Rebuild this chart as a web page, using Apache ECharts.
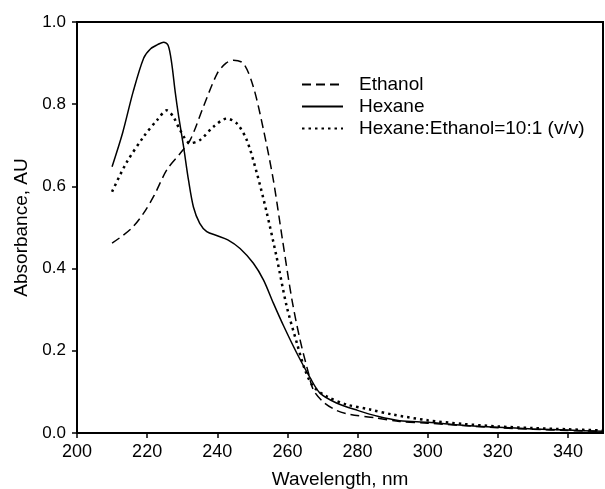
<!DOCTYPE html>
<html lang="en">
<head>
  <meta charset="UTF-8">
  <title>Absorbance</title>
  <style>
    html, body { margin: 0; padding: 0; background: #fff; }
  </style>
</head>
<body>
  <div id="main" style="width:605px;height:489px"></div>
  <script src="https://cdn.jsdelivr.net/npm/echarts@6/dist/echarts.min.js"></script>
  <script>
    var myChart = echarts.init(document.getElementById('main'))

    var seriesNames = ['Ethanol', 'Hexane', 'Hexane:Ethanol=10:1 (v/v)']

    // wavelength (nm) / absorbance (AU)
    var ethanolNm = [210, 213, 216, 219, 222, 225.6, 229.4, 232.3, 236, 240, 242.5, 244.6, 247.5, 250.3, 253.2, 256, 258.6, 261.3, 263.6, 266, 267.4, 270.3, 274, 278, 285, 292, 300, 310, 320, 330, 340, 350]
    var ethanolAbs = [0.462, 0.48, 0.502, 0.535, 0.578, 0.64, 0.68, 0.713, 0.793, 0.875, 0.9, 0.907, 0.899, 0.842, 0.737, 0.615, 0.47, 0.324, 0.227, 0.146, 0.105, 0.075, 0.055, 0.045, 0.037, 0.028, 0.024, 0.018, 0.013, 0.009, 0.006, 0.004]

    var hexaneNm = [210, 213, 216, 219, 221, 223, 224.7, 226, 227, 228, 229, 230.4, 231.8, 233.2, 235, 237, 240, 243, 246.5, 250.3, 253.2, 256, 259, 262.7, 266.5, 269.3, 274, 280, 286, 292, 300, 310, 320, 330, 340, 350]
    var hexaneAbs = [0.648, 0.73, 0.83, 0.912, 0.935, 0.945, 0.951, 0.943, 0.9, 0.83, 0.77, 0.696, 0.615, 0.55, 0.51, 0.49, 0.48, 0.47, 0.449, 0.413, 0.372, 0.316, 0.259, 0.194, 0.134, 0.097, 0.073, 0.055, 0.04, 0.03, 0.026, 0.019, 0.014, 0.01, 0.007, 0.004]

    var mixNm = [210, 214, 219, 222.8, 225.6, 227.5, 229.4, 232.3, 235.1, 238.9, 242.7, 245.6, 248.4, 251.3, 254, 256.9, 259.8, 262.7, 265, 267.4, 271.2, 277, 283.6, 290, 300, 310, 320, 330, 340, 350]
    var mixAbs = [0.587, 0.656, 0.721, 0.761, 0.785, 0.769, 0.737, 0.705, 0.713, 0.745, 0.765, 0.753, 0.713, 0.632, 0.54, 0.429, 0.308, 0.219, 0.154, 0.113, 0.089, 0.069, 0.057, 0.045, 0.031, 0.022, 0.016, 0.012, 0.009, 0.006]

    function pairs(xs, ys) {
      var out = []
      for (var i = 0; i < xs.length; i++) {
        out.push([xs[i], ys[i]])
      }
      return out
    }

    var font = 'Liberation Sans, Arial, sans-serif'

    var options = {
      animation: false,
      textStyle: { fontFamily: font, color: '#000' },
      grid: {
        left: 77, right: 2, top: 22, bottom: 56,
        outerBoundsMode: 'none',
        show: true, borderColor: '#000', borderWidth: 2
      },
      legend: {
        orient: 'vertical',
        left: 296,
        top: 70,
        itemWidth: 41,
        itemHeight: 14,
        itemGap: 3,
        itemStyle: { opacity: 0 },
        textStyle: { fontSize: 19, color: '#000', fontFamily: font, padding: [0, 0, 0, 11] },
        data: seriesNames
      },
      xAxis: {
        type: 'value',
        min: 200,
        max: 350,
        interval: 20,
        name: 'Wavelength, nm',
        nameLocation: 'middle',
        nameGap: 37,
        nameTextStyle: { fontSize: 19, color: '#000', fontFamily: font },
        splitLine: { show: false },
        axisLine: { lineStyle: { color: '#000', width: 2 } },
        axisTick: { length: 5, lineStyle: { color: '#000', width: 1.5 } },
        axisLabel: { fontSize: 18, color: '#000', margin: 10, showMaxLabel: false, fontFamily: font }
      },
      yAxis: {
        type: 'value',
        min: 0,
        max: 1,
        interval: 0.2,
        name: 'Absorbance, AU',
        nameLocation: 'middle',
        nameGap: 46,
        nameTextStyle: { fontSize: 19, color: '#000', fontFamily: font },
        splitLine: { show: false },
        axisLine: { show: true, lineStyle: { color: '#000', width: 2 } },
        axisTick: { show: true, length: 5, lineStyle: { color: '#000', width: 1.5 } },
        axisLabel: {
          fontSize: 17, color: '#000', margin: 11, fontFamily: font,
          formatter: function (v) { return v.toFixed(1) }
        }
      },
      series: [
        {
          name: seriesNames[0],
          type: 'line',
          data: pairs(ethanolNm, ethanolAbs),
          smooth: 0.3,
          symbol: 'none',
          lineStyle: { color: '#000', width: 1.5, type: [9, 5] }
        },
        {
          name: seriesNames[1],
          type: 'line',
          data: pairs(hexaneNm, hexaneAbs),
          smooth: 0.3,
          symbol: 'none',
          lineStyle: { color: '#000', width: 1.5, type: 'solid' }
        },
        {
          name: seriesNames[2],
          type: 'line',
          data: pairs(mixNm, mixAbs),
          smooth: 0.3,
          symbol: 'none',
          lineStyle: { color: '#000', width: 2.5, type: [2.5, 4] }
        }
      ]
    }

    myChart.setOption(options)
  </script>
</body>
</html>
